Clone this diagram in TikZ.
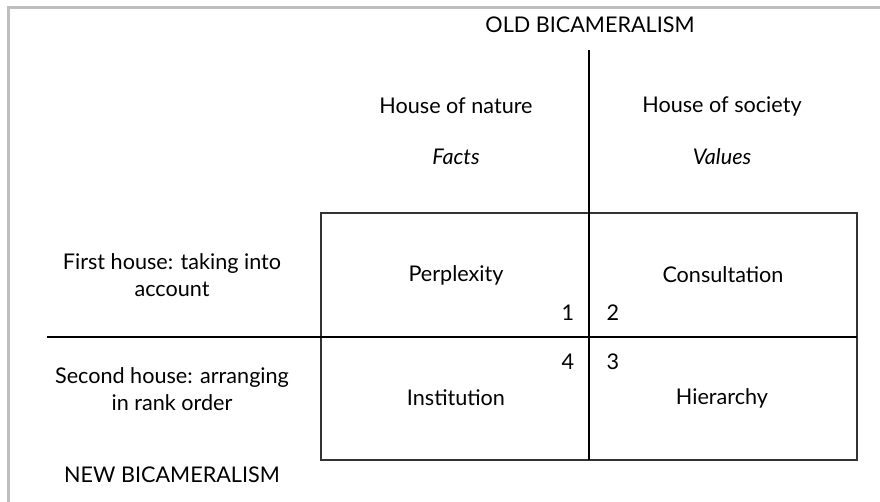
\documentclass[tikz,border=0pt]{standalone}
\usepackage{fontspec}
\setmainfont{Lato}
\usepackage{tikz}

\begin{document}
\begin{tikzpicture}[x=0.02cm,y=-0.02cm,
  lbl/.style={font=\fontsize{12.3}{15.3}\selectfont, align=center, inner sep=0pt},
  num/.style={font=\fontsize{12.3}{15}\selectfont, inner sep=0pt},
  axis/.style={line width=1.6pt},
  frame/.style={draw=black!25, line width=1.4pt}]
\useasboundingbox (0,0) rectangle (880,502) ;
% outer frame
\coordinate (f1) at (8.5,502) ;
\coordinate (f2) at (8.5,7.5) ;
\coordinate (f3) at (880,7.5) ;
\draw [frame] (f1) -- (f2) -- (f3) ;
% box
\coordinate (b1) at (321,213) ;
\coordinate (b2) at (857,460) ;
\draw [black!80, line width=0.7pt] (b1) rectangle (b2) ;
% axes
\coordinate (vtop) at (589,50) ;
\coordinate (vbot) at (589,460) ;
\coordinate (hleft) at (47,337) ;
\coordinate (hright) at (857,337) ;
\draw [axis] (vtop) -- (vbot) ;
\draw [axis] (hleft) -- (hright) ;
% headings
\node[lbl] (old) at (590,25) {OLD BICAMERALISM} ;
\node[lbl] (new) at (172,475) {NEW BICAMERALISM} ;
\node[lbl] (nature) at (456,106) {House of nature} ;
\node[lbl] (facts) at (456,157) {\textit{Facts}} ;
\node[lbl] (society) at (722,106) {House of society} ;
\node[lbl] (values) at (722,157) {\textit{Values}} ;
\node[lbl] (first) at (172,275) {First house: taking into\\account} ;
\node[lbl] (second) at (172,389) {Second house: arranging\\in rank order} ;
% cells
\node[lbl] (perp) at (456,275) {Perplexity} ;
\node[lbl] (cons) at (723,275) {Consultation} ;
\node[lbl] (inst) at (456,398) {Institution} ;
\node[lbl] (hier) at (722,398) {Hierarchy} ;
% numbers
\node[num] (n1) at (568,313) {1} ;
\node[num] (n2) at (613,313) {2} ;
\node[num] (n4) at (568,362) {4} ;
\node[num] (n3) at (613,362) {3} ;
\end{tikzpicture}
\end{document}
